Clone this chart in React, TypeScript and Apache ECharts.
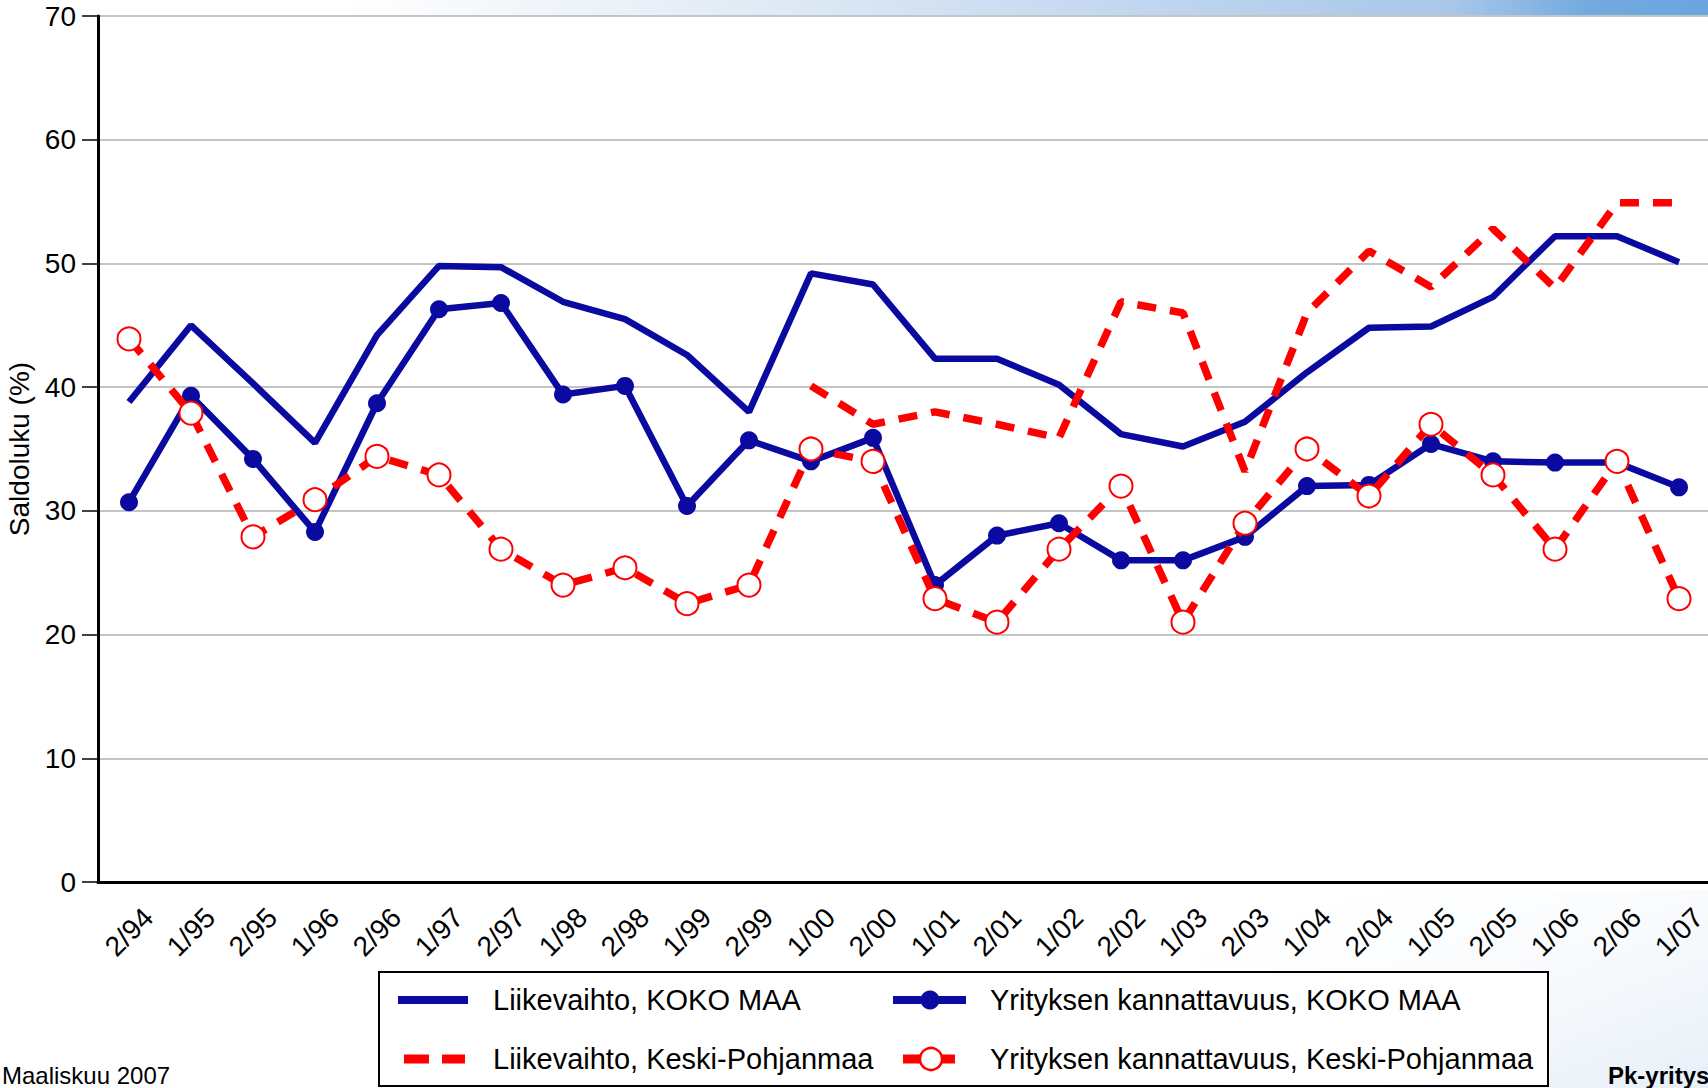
import React, { useEffect, useRef } from "react";
import * as echarts from "echarts";

const categories = [
  "2/94", "1/95", "2/95", "1/96", "2/96", "1/97", "2/97", "1/98", "2/98", "1/99", "2/99",
  "1/00", "2/00", "1/01", "2/01", "1/02", "2/02", "1/03", "2/03", "1/04", "2/04",
  "1/05", "2/05", "1/06", "2/06", "1/07",
];

const liikevaihtoKoko = [
  38.8, 45.0, 40.3, 35.5, 44.2, 49.8, 49.7, 46.9, 45.5, 42.6, 38.0,
  49.2, 48.3, 42.3, 42.3, 40.2, 36.2, 35.2, 37.2, 41.2, 44.8,
  44.9, 47.3, 52.2, 52.2, 50.1,
];

const kannattavuusKoko = [
  30.7, 39.3, 34.2, 28.3, 38.7, 46.3, 46.8, 39.4, 40.1, 30.4, 35.7,
  34.0, 35.9, 24.0, 28.0, 29.0, 26.0, 26.0, 27.9, 32.0, 32.1,
  35.4, 34.0, 33.9, 33.9, 31.9,
];

const liikevaihtoKP = [
  null, null, null, null, null, null, null, null, null, null, null,
  40.1, 37.0, 38.0, 37.0, 35.9, 46.9, 46.0, 33.2, 46.0, 51.0,
  48.1, 52.8, 48.0, 54.9, 54.9,
];

const kannattavuusKP = [
  43.9, 37.9, 27.9, 30.9, 34.4, 32.9, 26.9, 24.0, 25.4, 22.5, 24.0,
  35.0, 34.0, 22.9, 21.0, 26.9, 32.0, 21.0, 29.0, 35.0, 31.2,
  37.0, 32.9, 26.9, 34.0, 22.9,
];

const seriesNames = [
  "Liikevaihto, KOKO MAA",
  "Yrityksen kannattavuus, KOKO MAA",
  "Liikevaihto, Keski-Pohjanmaa",
  "Yrityksen kannattavuus, Keski-Pohjanmaa",
];

const yTicks = { min: 0, max: 70, interval: 10 };

const FONT = "'Liberation Sans', Arial, sans-serif";
const BLUE = "#0A0AA0";
const RED = "#FF0000";

function legendGraphics() {
  const row1 = 1000;
  const row2 = 1059;
  const col1Text = 493;
  const col2Text = 990;
  const txt = (x: number, y: number, s: string) => ({
    type: "text",
    z: 20,
    silent: true,
    x,
    y,
    style: {
      text: s,
      fontFamily: FONT,
      fontSize: 29,
      fill: "#000",
      verticalAlign: "middle",
      align: "left",
    },
  });
  return [
    // row 1, col 1: solid blue line
    {
      type: "line",
      z: 20,
      silent: true,
      shape: { x1: 398, y1: row1, x2: 468, y2: row1 },
      style: { stroke: BLUE, lineWidth: 8 },
    },
    txt(col1Text, row1, seriesNames[0]),
    // row 1, col 2: blue line with filled dot
    {
      type: "line",
      z: 20,
      silent: true,
      shape: { x1: 893, y1: row1, x2: 966, y2: row1 },
      style: { stroke: BLUE, lineWidth: 8 },
    },
    {
      type: "circle",
      z: 21,
      silent: true,
      shape: { cx: 930, cy: row1, r: 9.5 },
      style: { fill: BLUE },
    },
    txt(col2Text, row1, seriesNames[1]),
    // row 2, col 1: red dashes
    {
      type: "line",
      z: 20,
      silent: true,
      shape: { x1: 404, y1: row2, x2: 429, y2: row2 },
      style: { stroke: RED, lineWidth: 9 },
    },
    {
      type: "line",
      z: 20,
      silent: true,
      shape: { x1: 442, y1: row2, x2: 465, y2: row2 },
      style: { stroke: RED, lineWidth: 9 },
    },
    txt(col1Text, row2, seriesNames[2]),
    // row 2, col 2: red line with empty circle
    {
      type: "line",
      z: 20,
      silent: true,
      shape: { x1: 903, y1: row2, x2: 955, y2: row2 },
      style: { stroke: RED, lineWidth: 9 },
    },
    {
      type: "circle",
      z: 21,
      silent: true,
      shape: { cx: 931, cy: row2, r: 11 },
      style: { fill: "#fff", stroke: RED, lineWidth: 2.5 },
    },
    txt(col2Text, row2, seriesNames[3]),
  ];
}

export default function App() {
  const ref = useRef<HTMLDivElement>(null);

  useEffect(() => {
    if (!ref.current) return;
    const chart = echarts.init(ref.current, null, { renderer: "svg" });

    chart.setOption({
      animation: false,
      backgroundColor: "#fff",
      textStyle: { fontFamily: FONT },
      graphic: [
        {
          type: "rect",
          z: -10,
          silent: true,
          shape: { x: 0, y: 0, width: 1708, height: 15 },
          style: {
            fill: new echarts.graphic.LinearGradient(0, 0, 1, 0, [
              { offset: 0, color: "#ffffff" },
              { offset: 0.2, color: "#ffffff" },
              { offset: 0.45, color: "#dfeaf6" },
              { offset: 0.75, color: "#b6cfec" },
              { offset: 0.85, color: "#a9c7e9" },
              { offset: 0.93, color: "#72aae0" },
              { offset: 1, color: "#6aa6df" },
            ]),
          },
        },
        {
          type: "rect",
          z: -10,
          silent: true,
          shape: { x: 1200, y: 890, width: 508, height: 198 },
          style: {
            fill: new echarts.graphic.LinearGradient(0, 0, 1, 1, [
              { offset: 0, color: "rgba(255,255,255,0)" },
              { offset: 1, color: "rgba(220,232,244,0.7)" },
            ]),
          },
        },
        {
          type: "rect",
          z: 5,
          silent: true,
          shape: { x: 379, y: 972, width: 1169, height: 114 },
          style: { fill: "#fff", stroke: "#000", lineWidth: 2 },
        },
        ...legendGraphics(),
        {
          type: "text",
          left: 2,
          top: 1063,
          style: { text: "Maaliskuu 2007", fontFamily: FONT, fontSize: 24, fill: "#000" },
        },
        {
          type: "text",
          left: 1608,
          top: 1063,
          style: {
            text: "Pk-yritysbarometri",
            fontFamily: FONT,
            fontSize: 24,
            fontWeight: "bold",
            fill: "#000",
          },
        },
      ],
      grid: {
        left: 98,
        top: 16,
        width: 1612,
        height: 866,
        containLabel: false,
        outerBoundsMode: "none",
      },
      xAxis: {
        type: "category",
        data: categories,
        boundaryGap: true,
        axisLine: { lineStyle: { color: "#000", width: 3 } },
        axisTick: { show: false },
        splitLine: { show: false },
        axisLabel: {
          rotate: 45,
          interval: 0,
          align: "center",
          verticalAlign: "middle",
          margin: 50,
          fontSize: 28,
          fontFamily: FONT,
          color: "#000",
        },
      },
      yAxis: {
        type: "value",
        min: yTicks.min,
        max: yTicks.max,
        interval: yTicks.interval,
        name: "Saldoluku (%)",
        nameLocation: "middle",
        nameGap: 58,
        nameRotate: 90,
        nameTextStyle: { fontFamily: FONT, fontSize: 28, color: "#000" },
        axisLine: { show: true, lineStyle: { color: "#000", width: 3 } },
        axisTick: { show: true, length: 16, lineStyle: { color: "#000", width: 1.5 } },
        splitLine: { lineStyle: { color: "#b0b0b0", width: 1.5 } },
        axisLabel: {
          margin: 22,
          fontSize: 28,
          fontFamily: FONT,
          color: "#000",
        },
      },
      series: [
        {
          name: seriesNames[0],
          type: "line",
          data: liikevaihtoKoko,
          symbol: "none",
          color: BLUE,
          lineStyle: { color: BLUE, width: 6.5 },
          z: 2,
        },
        {
          name: seriesNames[1],
          type: "line",
          data: kannattavuusKoko,
          symbol: "circle",
          symbolSize: 18,
          color: BLUE,
          itemStyle: { color: BLUE },
          lineStyle: { color: BLUE, width: 6.5 },
          z: 3,
        },
        {
          name: seriesNames[2],
          type: "line",
          data: liikevaihtoKP,
          symbol: "none",
          connectNulls: false,
          color: RED,
          lineStyle: { color: RED, width: 7.5, type: [19, 14] },
          z: 4,
        },
        {
          name: seriesNames[3],
          type: "line",
          data: kannattavuusKP,
          symbol: "emptyCircle",
          symbolSize: 23,
          color: RED,
          itemStyle: { color: RED, borderColor: RED, borderWidth: 2.5 },
          lineStyle: { color: RED, width: 7.5, type: [19, 14] },
          z: 5,
        },
      ],
    });

    return () => chart.dispose();
  }, []);

  return (
    <div
      ref={ref}
      style={{ position: "fixed", left: 0, top: 0, width: 1708, height: 1088 }}
    />
  );
}
